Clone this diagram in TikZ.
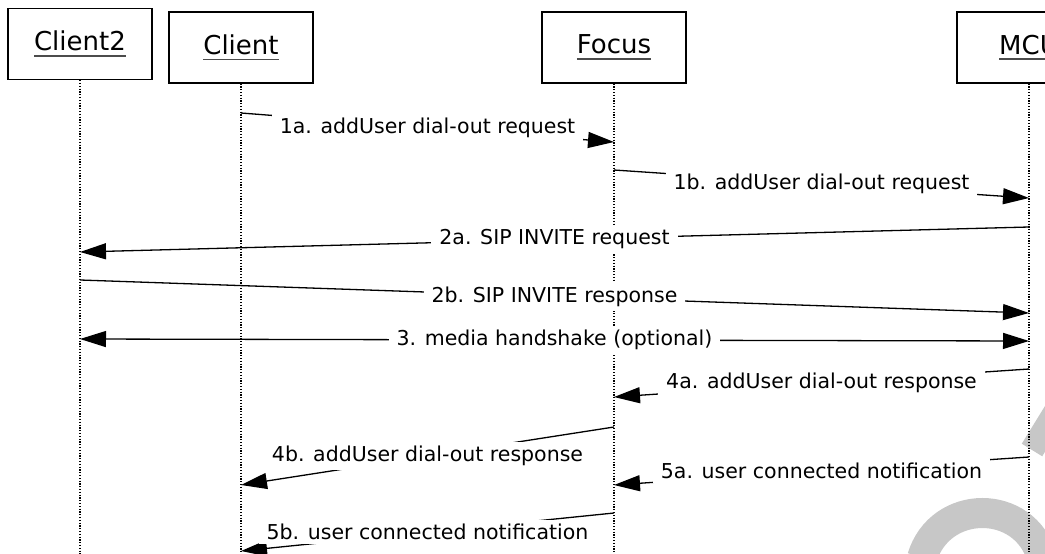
\documentclass[tikz,border=0pt]{standalone}
\usepackage{fontspec}
\setmainfont{DejaVu Sans}
\usepackage{tikz}
\usetikzlibrary{arrows.meta}
\tikzstyle{obj_box}=[draw=black, line width=1.3pt, minimum width=144pt, minimum height=71pt, inner sep=0pt, font=\fontsize{26}{30}\selectfont]
\tikzstyle{life_line}=[-, draw=black, line width=1.2pt, dash pattern=on 1.2pt off 1.6pt]
\tikzstyle{msg_edge}=[-{Triangle[length=26pt,width=16pt]}, draw=black, line width=1.3pt]
\tikzstyle{msg_both}=[{Triangle[length=26pt,width=16pt]}-{Triangle[length=26pt,width=16pt]}, draw=black, line width=1.3pt]
\tikzstyle{msg_label}=[fill=white, inner xsep=8pt, inner ysep=4.5pt, font=\fontsize{20.5}{24}\selectfont]
\tikzstyle{water_mark}=[-, draw=black!22, line width=30pt]
\newcommand{\objname}[1]{\setbox0\hbox{#1}\rlap{\color{black!70}\raisebox{-6pt}{\rule{\wd0}{1.8pt}}}\box0}

\begin{document}
\begin{tikzpicture}[x=1pt, y=-1pt]
        \useasboundingbox (0,0) rectangle (1045,554);
        \clip (0,0) rectangle (1045,554);
        % watermark behind everything
        \draw[style={water_mark}] (922,558) .. controls (940,498) and (1025,498) .. (1042,558);
        \draw[style={water_mark}, line width=24pt] (1032,450) -- (1064,398);
        % objects and lifelines
        \node [style={obj_box}] (0) at (80,44) {\objname{Client2}};
        \node [style={obj_box}] (1) at (241,47.5) {\objname{Client}};
        \node [style={obj_box}] (2) at (614,47.5) {\objname{Focus}};
        \node [style={obj_box}] (3) at (1029,47.5) {\objname{MCU}};
        \coordinate (0e) at (80,554);
        \coordinate (1e) at (241,554);
        \coordinate (2e) at (614,554);
        \coordinate (3e) at (1029,554);
        \draw[style={life_line}]{} (0) to (0e);
        \draw[style={life_line}]{} (1) to (1e);
        \draw[style={life_line}]{} (2) to (2e);
        \draw[style={life_line}]{} (3) to (3e);
        % message end points on the lifelines
        \coordinate (1a_s) at (241,113);
        \coordinate (1a_e) at (614,142);
        \coordinate (1b_s) at (614,170);
        \coordinate (1b_e) at (1029,198);
        \coordinate (2a_s) at (1029,227);
        \coordinate (2a_e) at (80,252);
        \coordinate (2b_s) at (80,280);
        \coordinate (2b_e) at (1029,313);
        \coordinate (3_s) at (80,339);
        \coordinate (3_e) at (1029,341);
        \coordinate (4a_s) at (1029,369);
        \coordinate (4a_e) at (614,397);
        \coordinate (4b_s) at (614,427);
        \coordinate (4b_e) at (241,485);
        \coordinate (5a_s) at (1029,457);
        \coordinate (5a_e) at (614,485);
        \coordinate (5b_s) at (614,513);
        \coordinate (5b_e) at (241,551);
        % messages
        \draw[style={msg_edge}]{} (1a_s) to node[style={msg_label}] {1a. addUser dial-out request} (1a_e);
        \draw[style={msg_edge}]{} (1b_s) to node[style={msg_label}] {1b. addUser dial-out request} (1b_e);
        \draw[style={msg_edge}]{} (2a_s) to node[style={msg_label}] {2a. SIP INVITE request} (2a_e);
        \draw[style={msg_edge}]{} (2b_s) to node[style={msg_label}] {2b. SIP INVITE response} (2b_e);
        \draw[style={msg_both}]{} (3_s) to node[style={msg_label}] {3. media handshake (optional)} (3_e);
        \draw[style={msg_edge}]{} (4a_s) to node[style={msg_label}] {4a. addUser dial-out response} (4a_e);
        \draw[style={msg_edge}]{} (4b_s) to node[style={msg_label}] {4b. addUser dial-out response} (4b_e);
        \draw[style={msg_edge}]{} (5a_s) to node[style={msg_label}] {5a. user connected notification} (5a_e);
        \draw[style={msg_edge}]{} (5b_s) to node[style={msg_label}] {5b. user connected notification} (5b_e);
    \end{tikzpicture}
\end{document}
